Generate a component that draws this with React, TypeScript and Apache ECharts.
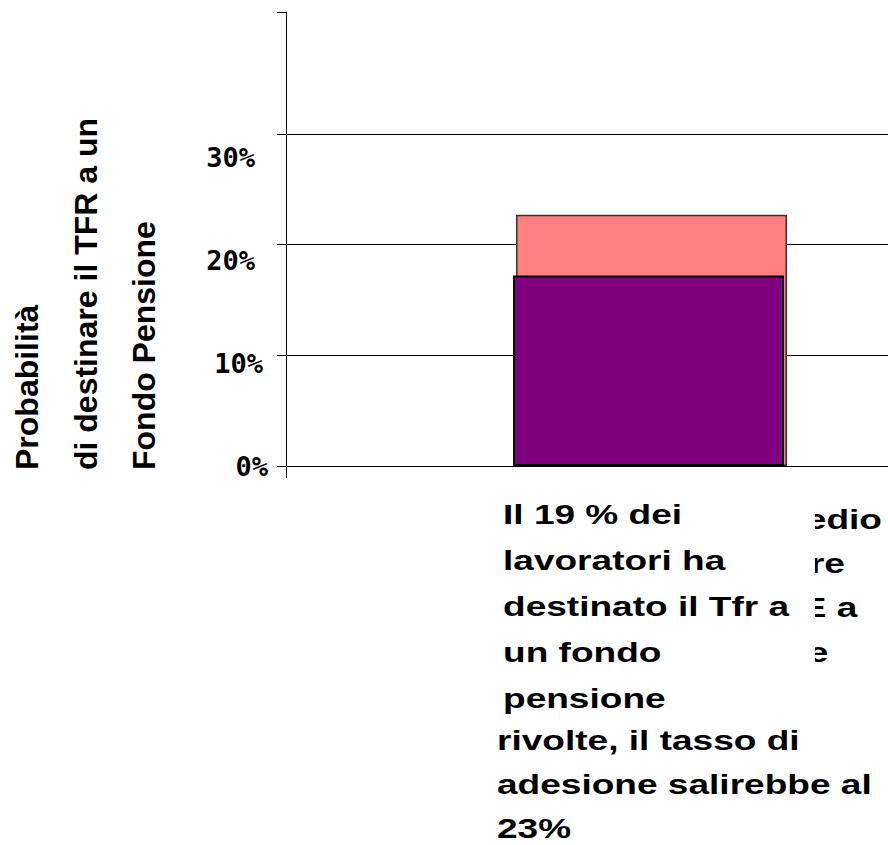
import React, { useEffect, useRef } from 'react';
import * as echarts from 'echarts';

const categories = ['Lavoratori'];
const currentShare = [17.2];
const informedShare = [22.7];
const yTickValues = [0, 10, 20, 30];
const yTitleLines = ['Probabilità', 'di destinare il TFR a un', 'Fondo Pensione'];
const frontNoteLines = ['Il 19 % dei', 'lavoratori ha', 'destinato il Tfr a', 'un fondo', 'pensione'];
const backNoteLines = [
  'Se il lavoratore medio',
  'sapesse rispondere',
  'alle tre domande E a',
  'economica di base',
  'sulle tematiche',
  'rivolte, il tasso di',
  'adesione salirebbe al',
];
const backNoteLast = '23%';

const SANS = '"Liberation Sans", Arial, sans-serif';
const MONO = '"DejaVu Sans Mono", monospace';

export default function App() {
  const ref = useRef<HTMLDivElement>(null);
  useEffect(() => {
    if (!ref.current) return;
    const chart = echarts.init(ref.current, null, { renderer: 'svg' });
    const padKey = (v: number) => (v === 0 ? 'd' : v === 10 ? 'c' : 'a');
    const labelFont = { color: '#000', fontFamily: MONO, fontWeight: 'bold', fontSize: 27 };
    chart.setOption({
      animation: false,
      backgroundColor: '#ffffff',
      grid: {
        left: 286,
        top: 12,
        right: -126,
        bottom: 379,
        containLabel: false,
        outerBoundsMode: 'none',
      },
      xAxis: {
        type: 'category',
        data: categories,
        axisLine: { show: true, lineStyle: { color: '#000', width: 1 } },
        axisTick: { show: true, length: 12, lineStyle: { color: '#000', width: 1 } },
        axisLabel: { show: false },
        splitLine: { show: false },
      },
      yAxis: [
        {
          type: 'value',
          min: 0,
          max: 41,
          interval: 10,
          axisLine: { show: true, lineStyle: { color: '#000', width: 1 } },
          axisTick: {
            show: true,
            length: 9,
            customValues: [0, 10, 20, 30, 41],
            lineStyle: { color: '#000', width: 1 },
          },
          axisLabel: { show: false },
          splitLine: {
            show: true,
            showMaxLine: false,
            lineStyle: {
              color: ['#000', '#000', '#000', '#000', 'rgba(0,0,0,0)', 'rgba(0,0,0,0)'],
              width: 1,
            },
          },
        },
        {
          type: 'value',
          min: 0,
          max: 44.2,
          interval: 10,
          position: 'left',
          axisLine: { show: false },
          axisTick: { show: false },
          splitLine: { show: false },
          axisLabel: {
            show: true,
            margin: 18,
            ...labelFont,
            formatter: (v: number) => (yTickValues.includes(v) ? `{${padKey(v)}|${v}%}` : ''),
            rich: {
              a: { padding: [0, 13, 0, 0], ...labelFont },
              c: { padding: [0, 5, 0, 0], ...labelFont },
              d: { padding: [0, 0, 0, 0], ...labelFont },
            },
          },
        },
      ],
      series: [
        {
          type: 'bar',
          name: 'Adesione attuale',
          data: currentShare,
          yAxisIndex: 0,
          barWidth: 271,
          barGap: '-98.9%',
          z: 3,
          itemStyle: { color: '#800080', borderColor: '#000', borderWidth: 2 },
        },
        {
          type: 'bar',
          name: 'Adesione con informazione',
          data: informedShare,
          yAxisIndex: 0,
          barWidth: 271,
          barGap: '-98.9%',
          z: 2,
          itemStyle: { color: '#FF8080', borderColor: '#333', borderWidth: 1.5 },
        },
      ],
      graphic: [
        {
          type: 'text',
          x: -2,
          y: 470,
          rotation: Math.PI / 2,
          z: 10,
          style: {
            text: yTitleLines.join('\n'),
            font: `bold 32px ${SANS}`,
            lineHeight: 58.5,
            align: 'left',
            verticalAlign: 'top',
            fill: '#000',
          },
        },
        {
          type: 'text',
          x: 497,
          y: 497,
          scaleX: 1.3,
          z: 10,
          style: {
            text: backNoteLines.join('\n'),
            font: `bold 28.5px ${SANS}`,
            lineHeight: 44.2,
            align: 'left',
            verticalAlign: 'top',
            fill: '#000',
          },
        },
        {
          type: 'text',
          x: 497,
          y: 828,
          scaleX: 1.3,
          z: 10,
          style: {
            text: backNoteLast,
            font: `bold 28.5px ${SANS}`,
            lineHeight: 16,
            align: 'left',
            verticalAlign: 'middle',
            fill: '#000',
          },
        },
        {
          type: 'rect',
          z: 11,
          shape: { x: 493, y: 494, width: 322, height: 218 },
          style: { fill: '#ffffff' },
        },
        {
          type: 'text',
          x: 503,
          y: 491,
          scaleX: 1.3,
          z: 12,
          style: {
            text: frontNoteLines.join('\n'),
            font: `bold 28.5px ${SANS}`,
            lineHeight: 46,
            align: 'left',
            verticalAlign: 'top',
            fill: '#000',
          },
        },
      ],
    });
    return () => chart.dispose();
  }, []);
  return <div ref={ref} style={{ position: 'fixed', left: 0, top: 0, width: 888, height: 845 }} />;
}
